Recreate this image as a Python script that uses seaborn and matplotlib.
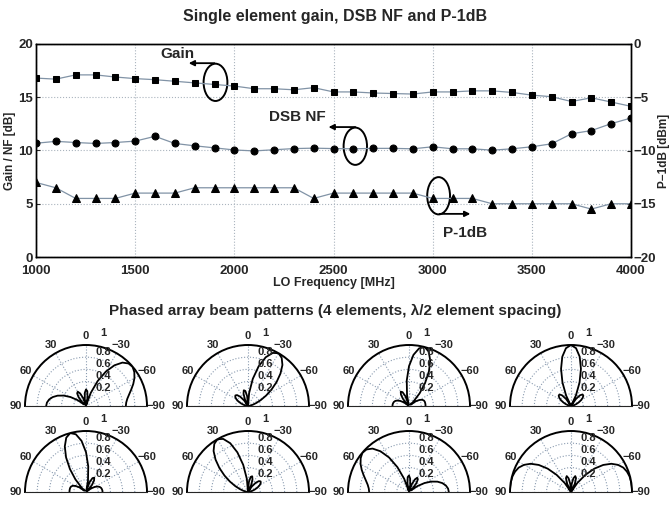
import numpy as np
import seaborn as sns
import matplotlib.pyplot as plt
from matplotlib.patches import Ellipse

sns.set_style("white")
plt.rcParams['font.family'] = ['Liberation Sans', 'DejaVu Sans']
plt.rcParams['font.weight'] = 'bold'
plt.rcParams['axes.labelweight'] = 'bold'

# ---- top panel data ----
freq = list(range(1000, 4001, 100))
gain_db = [16.8, 16.7, 17.1, 17.1, 16.9, 16.75, 16.65, 16.5, 16.35, 16.2, 16.05,
           15.8, 15.8, 15.7, 15.9, 15.5, 15.5, 15.4, 15.35, 15.3, 15.5,
           15.5, 15.6, 15.6, 15.45, 15.2, 15.05, 14.6, 14.95, 14.55, 14.15]
nf_db = [10.68, 10.86, 10.75, 10.66, 10.75, 10.88, 11.33, 10.66, 10.44, 10.25, 10.05,
         9.96, 10.07, 10.18, 10.22, 10.18, 10.16, 10.2, 10.2, 10.16, 10.35,
         10.16, 10.16, 10.03, 10.16, 10.35, 10.63, 11.57, 11.87, 12.52, 13.05]
p1db_dbm = [-13, -13.5, -14.5, -14.5, -14.5, -14, -14, -14, -13.5, -13.5, -13.5,
            -13.5, -13.5, -13.5, -14.5, -14, -14, -14, -14, -14, -14.5,
            -14.5, -14.5, -15, -15, -15, -15, -15, -15.5, -15, -15]

# ---- beam patterns, normalised magnitude every 5 deg from -90 to 90 ----
beam_angles = list(range(-90, 91, 5))
beam_1 = [.653, .662, .688, .732, .789, .855, .917, .967, .998, .986, .929, .815, .653,
          .449, .229, .021, .144, .245, .271, .219, .115, .014, .138, .227, .271,
          .253, .190, .088, .038, .169, .294, .404, .496, .565, .614, .643, .653]
beam_2 = [0, .009, .036, .081, .146, .233, .343, .471, .612, .753, .878, .963, 1.0,
          .960, .851, .673, .452, .216, 0, .162, .251, .267, .215, .117, 0,
          .111, .199, .253, .270, .255, .219, .172, .118, .070, .031, .008, 0]
beam_3 = [.271, .271, .270, .268, .261, .241, .200, .133, .033, .102, .270, .459, .653,
          .823, .947, 1.0, .961, .842, .653, .422, .188, .018, .169, .251, .271,
          .230, .157, .066, .025, .105, .168, .213, .241, .257, .265, .270, .271]
beam_4 = [0, .006, .024, .053, .092, .140, .189, .234, .264, .268, .229, .140, 0,
          .191, .409, .630, .821, .951, 1.0, .951, .821, .630, .409, .191, 0,
          .140, .229, .268, .264, .234, .189, .140, .092, .053, .024, .006, 0]
beam_5 = [.271, .270, .265, .257, .241, .213, .168, .105, .025, .066, .157, .230, .271,
          .251, .169, .018, .188, .422, .653, .842, .961, 1.0, .947, .823, .653,
          .459, .270, .102, .033, .133, .200, .241, .261, .268, .270, .271, .271]
beam_6 = [0, .008, .031, .070, .118, .172, .219, .255, .270, .253, .199, .111, 0,
          .117, .215, .267, .251, .162, 0, .216, .452, .673, .851, .960, 1.0,
          .963, .878, .753, .612, .471, .343, .233, .146, .081, .036, .009, 0]
beam_7 = [.653, .643, .614, .565, .496, .404, .294, .169, .038, .088, .190, .253, .271,
          .227, .138, .014, .115, .219, .271, .245, .144, .021, .229, .449, .653,
          .815, .929, .986, .998, .967, .917, .855, .789, .732, .688, .662, .653]
beam_8 = [1.0, 1.0, .998, .993, .976, .946, .890, .807, .690, .542, .367, .181, 0,
          .146, .242, .270, .228, .131, 0, .131, .228, .270, .242, .146, 0,
          .181, .367, .542, .690, .807, .890, .946, .976, .993, .998, 1.0, 1.0]
beams = [beam_1, beam_2, beam_3, beam_4, beam_5, beam_6, beam_7, beam_8]
r_ticks = [0.2, 0.4, 0.6, 0.8, 1.0]
r_tick_labels = ['0.2', '0.4', '0.6', '0.8', '1']

W, H = 670, 507
fig = plt.figure(figsize=(W / 100, H / 100), dpi=100)


def fig_box(left, top, right, bottom):
    return [left / W, 1 - bottom / H, (right - left) / W, (bottom - top) / H]


# ---------------- top: gain / NF / P-1dB ----------------
ax = fig.add_axes(fig_box(36, 44, 631, 257))
line_kw = dict(color='#8193a6', linewidth=0.9, markerfacecolor='k', markeredgecolor='k')
sns.lineplot(x=freq, y=gain_db, ax=ax, marker='s', markersize=4.5, **line_kw)
sns.lineplot(x=freq, y=nf_db, ax=ax, marker='o', markersize=5, **line_kw)
ax2 = ax.twinx()
sns.lineplot(x=freq, y=p1db_dbm, ax=ax2, marker='^', markersize=5.5, **line_kw)

ax.set_xlim(1000, 4000)
ax.set_ylim(0, 20)
ax2.set_ylim(-20, 0)
ax.set_xticks(range(1000, 4001, 500))
ax.set_yticks([0, 5, 10, 15, 20])
ax2.set_yticks([-20, -15, -10, -5, 0])
ax.grid(True, linestyle=':', color='#aab4be', linewidth=0.8)
for a in (ax, ax2):
    a.tick_params(direction='in', length=3, labelsize=9.5, pad=2)
    for s in a.spines.values():
        s.set_color('k')
        s.set_linewidth(1.0)
ax.tick_params(axis='x', pad=6)
ax.set_xlabel('LO Frequency [MHz]', fontsize=9, labelpad=0)
ax.set_ylabel('Gain / NF [dB]', fontsize=8.5, labelpad=2)
ax2.set_ylabel('P\u22121dB [dBm]', fontsize=8.5, labelpad=1)

ann = dict(arrowstyle='-|>', color='k', lw=1.3, mutation_scale=8, shrinkA=0, shrinkB=0)
ax.add_patch(Ellipse((1905, 16.4), 120, 3.5, fill=False, ec='k', lw=1.4))
ax.annotate('', xy=(1770, 18.2), xytext=(1900, 18.2), arrowprops=ann)
ax.text(1712, 19.1, 'Gain', ha='center', va='center', fontsize=11)
ax.add_patch(Ellipse((2610, 10.4), 118, 3.5, fill=False, ec='k', lw=1.4))
ax.annotate('', xy=(2475, 12.2), xytext=(2610, 12.2), arrowprops=ann)
ax.text(2320, 13.1, 'DSB NF', ha='center', va='center', fontsize=11)
ax.add_patch(Ellipse((3030, 5.75), 115, 3.5, fill=False, ec='k', lw=1.4))
ax.annotate('', xy=(3190, 4.05), xytext=(3035, 4.05), arrowprops=ann)
ax.text(3165, 2.3, 'P-1dB', ha='center', va='center', fontsize=11)

fig.text(0.5, 1 - 17 / H, 'Single element gain, DSB NF and P-1dB',
         ha='center', va='center', fontsize=11.5)
fig.text(0.5, 1 - 311 / H, 'Phased array beam patterns (4 elements, \u03bb/2 element spacing)',
         ha='center', va='center', fontsize=11)

# ---------------- bottom: polar beam patterns ----------------
centers_x = [86, 248, 409, 571]
baselines = [406, 492]
R = 61
theta = np.deg2rad(beam_angles)
for i, mag in enumerate(beams):
    row, col = divmod(i, 4)
    cx, by = centers_x[col], baselines[row]
    # square box; the half disc sits centred in it
    pax = fig.add_axes(fig_box(cx - R, by - 1.5 * R, cx + R, by + 0.5 * R), projection='polar')
    sns.lineplot(x=theta, y=mag, ax=pax, color='k', linewidth=1.3, sort=False)
    pax.set_theta_zero_location('N')
    pax.set_theta_direction(1)
    pax.set_thetamin(-90)
    pax.set_thetamax(90)
    pax.set_ylim(0, 1)
    pax.set_thetagrids([-90, -60, -30, 0, 30, 60, 90],
                       labels=['\u221290', '\u221260', '\u221230', '0', '30', '60', '90'])
    pax.set_rgrids(r_ticks, labels=[''] * len(r_ticks))
    pax.tick_params(axis='x', labelsize=8, pad=-4)
    pax.grid(True, linestyle=':', color='#8a9bb0', linewidth=0.8)
    pax.spines['polar'].set_color('k')
    pax.spines['polar'].set_linewidth(1.4)
    pax.spines['start'].set_visible(False)
    pax.spines['end'].set_visible(False)
    pax.spines['inner'].set_visible(False)
    pax.set_xlabel('')
    pax.set_ylabel('')
    # radial labels just right of the vertical axis, MATLAB style ("1" sits above the arc)
    for r, lab in zip(r_ticks, r_tick_labels):
        y_off = 0.2 if r == 1.0 else 0.09
        pax.text(0.5 + 0.14, 0.25 + (r + y_off) / 2, lab, transform=pax.transAxes,
                 ha='center', va='center', fontsize=8)

fig.savefig('out.png', dpi=100)
